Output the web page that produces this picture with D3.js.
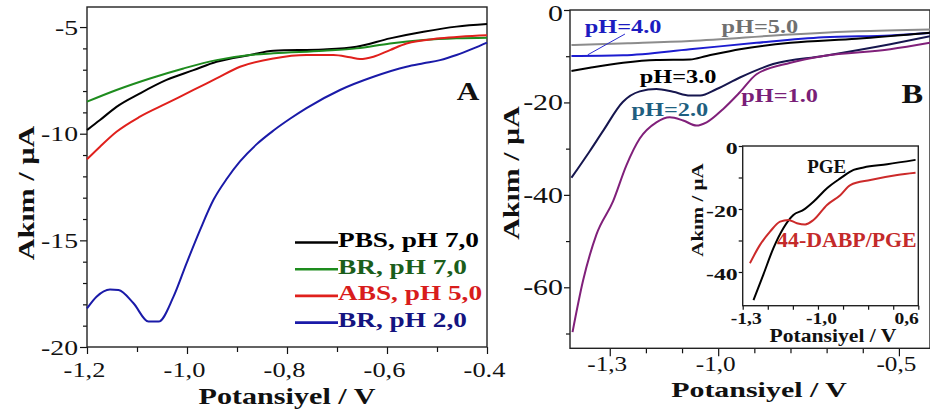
<!DOCTYPE html>
<html><head><meta charset="utf-8">
<script src="https://cdn.jsdelivr.net/npm/d3@7"></script>
<style>body{margin:0;background:#fff}svg{display:block}</style>
</head><body>
<svg id="c" width="930" height="416"></svg>
<script>
// ---------- DATA : panel A (potential V, current µA) ----------
const A_PBS7 = [[-1.2,-9.83],[-1.174,-9.36],[-1.141,-8.74],[-1.094,-8.11],[-1.041,-7.48],[-0.987,-7.02],[-0.941,-6.63],[-0.874,-6.31],[-0.827,-6.11],[-0.727,-6.05],[-0.661,-5.92],[-0.594,-5.53],[-0.527,-5.22],[-0.461,-4.98],[-0.4,-4.86]];
const A_BR7 = [[-1.2,-8.5],[-1.141,-7.95],[-1.074,-7.41],[-1.007,-6.94],[-0.941,-6.55],[-0.874,-6.31],[-0.827,-6.23],[-0.727,-6.11],[-0.661,-6.0],[-0.594,-5.77],[-0.527,-5.61],[-0.461,-5.53],[-0.4,-5.5]];
const A_ABS5 = [[-1.2,-11.2],[-1.174,-10.61],[-1.141,-9.91],[-1.094,-9.2],[-1.041,-8.58],[-0.987,-7.95],[-0.941,-7.41],[-0.894,-6.86],[-0.827,-6.47],[-0.761,-6.31],[-0.707,-6.31],[-0.674,-6.42],[-0.654,-6.5],[-0.627,-6.39],[-0.594,-6.08],[-0.561,-5.77],[-0.494,-5.53],[-0.4,-5.38]];
const A_BR2 = [[-1.2,-18.19],[-1.181,-17.64],[-1.154,-17.3],[-1.137,-17.33],[-1.107,-17.95],[-1.077,-18.81],[-1.057,-18.81],[-1.027,-17.64],[-1.001,-16.08],[-0.974,-14.52],[-0.947,-13.1],[-0.92,-12.1],[-0.894,-11.3],[-0.861,-10.5],[-0.827,-9.85],[-0.794,-9.3],[-0.761,-8.8],[-0.694,-7.95],[-0.627,-7.33],[-0.561,-6.86],[-0.527,-6.7],[-0.494,-6.55],[-0.461,-6.31],[-0.427,-6.0],[-0.4,-5.73]];
const A_legend = ["PBS, pH 7,0","BR, pH 7,0","ABS, pH 5,0","BR, pH 2,0"];
const A_yMajor = [-5,-10,-15,-20];
const A_yMinor = [-6,-7,-8,-9,-11,-12,-13,-14,-16,-17,-18,-19];
const A_xMajor = [-1.2,-1.0,-0.8,-0.6,-0.4];
const A_xLabels = ["-1,2","-1,0","-0,8","-0,6","-0.4"];
const A_xMinor = [-1.1,-0.9,-0.7,-0.5];

// ---------- DATA : panel B ----------
const B_pH5 = [[-1.406,-7.6],[-1.25,-7.2],[-1.078,-6.7],[-0.8,-5.3],[-0.617,-4.6],[-0.414,-4.2]];
const B_pH4 = [[-1.406,-9.95],[-1.263,-9.8],[-1.078,-8.5],[-0.894,-7.1],[-0.709,-5.9],[-0.524,-5.5],[-0.414,-5.0]];
const B_pH3 = [[-1.406,-13.2],[-1.355,-12.5],[-1.263,-11.4],[-1.171,-10.8],[-1.078,-10.7],[-1.032,-9.95],[-0.94,-8.5],[-0.8,-7.1],[-0.617,-6.2],[-0.414,-4.9]];
const B_pH2 = [[-1.406,-36.3],[-1.355,-30.5],[-1.318,-26.1],[-1.264,-19.9],[-1.217,-17.6],[-1.171,-17.1],[-1.125,-17.7],[-1.078,-18.5],[-1.05,-18.5],[-1.004,-17.1],[-0.94,-14.6],[-0.848,-11.7],[-0.709,-9.95],[-0.524,-7.4],[-0.414,-5.7]];
const B_pH1 = [[-1.403,-69.7],[-1.374,-58.6],[-1.337,-48.6],[-1.291,-41.4],[-1.254,-33.6],[-1.217,-27.8],[-1.171,-24.3],[-1.134,-23.2],[-1.097,-23.9],[-1.06,-25.0],[-1.032,-24.3],[-0.986,-21.4],[-0.94,-17.8],[-0.894,-13.9],[-0.8,-11.4],[-0.709,-9.95],[-0.524,-8.5],[-0.414,-7.1]];
const B_labels = ["pH=4.0","pH=5.0","pH=3.0","pH=2.0","pH=1.0"];
const B_labelPos = [[-1.369,-4.9],[-0.991,-4.9],[-1.217,-15.7],[-1.24,-23.0],[-0.936,-19.8]];
const B_leader = [[-1.258,-5.2],[-1.361,-9.7]];
const B_yMajor = [0,-20,-40,-60];
const B_yMinor = [-10,-30,-50,-70];
const B_xMajor = [-1.3,-1.0,-0.5];
const B_xLabels = ["-1,3","-1,0","-0,5"];
const B_xMinor = [-1.2,-1.1,-0.9,-0.8,-0.7,-0.6];

// ---------- DATA : inset ----------
const I_PGE = [[-1.257,-48.9],[-1.218,-40.9],[-1.178,-32.5],[-1.138,-26.1],[-1.098,-21.9],[-1.058,-20.3],[-1.018,-17.7],[-0.964,-13.4],[-0.911,-10.3],[-0.858,-7.6],[-0.818,-6.8],[-0.724,-5.8],[-0.611,-4.4]];
const I_DABP = [[-1.271,-37.2],[-1.231,-31.4],[-1.191,-27.2],[-1.151,-24.0],[-1.118,-23.5],[-1.084,-24.5],[-1.051,-24.9],[-1.018,-23.5],[-0.964,-18.7],[-0.911,-15.6],[-0.871,-12.4],[-0.791,-10.8],[-0.684,-9.2],[-0.611,-8.5]];
const I_yMajor = [0,-20,-40];
const I_yMinor = [-10,-30];
const I_xTicks = [-1.3,-1.2,-1.1,-1.0,-0.9,-0.8,-0.7,-0.6];
const I_xLabels = {"-1.3":"-1,3","-1":"-1,0","-0.6":"0,6"};

// ---------- helpers ----------
const FONT = "'Liberation Serif','Times New Roman',serif";
const svg = d3.select("#c");
function stretch(sel, k){
  sel.each(function(){
    const w = this.getComputedTextLength();
    if (w > 0) d3.select(this).attr("textLength", w*k).attr("lengthAdjust","spacingAndGlyphs");
  });
}
function styleAxis(g, size, bold, k){
  g.select(".domain").remove();
  g.selectAll(".tick line").attr("stroke","#111").attr("stroke-width",1.2);
  const t = g.selectAll(".tick text").attr("font-family",FONT).attr("font-size",size)
    .attr("font-weight", bold ? "bold" : "normal").attr("fill","#111");
  stretch(t, k);
  return g;
}
function frame(x0,x1,y0,y1){
  svg.append("rect").attr("x",x0).attr("y",y1).attr("width",x1-x0).attr("height",y0-y1)
    .attr("fill","none").attr("stroke","#222").attr("stroke-width",1.4);
}
function label(txt, x, y, size, color, k, opts={}){
  const t = svg.append("text").attr("x",x).attr("y",y).text(txt)
    .attr("font-family",FONT).attr("font-size",size).attr("font-weight", opts.normal ? "normal" : "bold")
    .attr("fill",color).attr("text-anchor", opts.anchor || "start");
  if (opts.rotate) t.attr("transform",`rotate(-90,${x},${y})`);
  stretch(t,k);
  return t;
}
const lineGen = (x,y) => d3.line().x(d=>x(d[0])).y(d=>y(d[1])).curve(d3.curveMonotoneX);

// ================= PANEL A =================
const xA = d3.scaleLinear().domain([-1.2,-0.4]).range([87,487]);
const yA = d3.scaleLinear().domain([-20,-4.06]).range([347,7]);
const A_series = [A_PBS7, A_BR7, A_ABS5, A_BR2];
const A_colors = ["#000000","#1e8c1e","#e0201c","#1a1aa8"];
const A_textColors = ["#000000","#1b5e1b","#d81c1c","#141480"];

const gAl = svg.append("g").attr("transform","translate(87,0)");
gAl.call(d3.axisLeft(yA).tickValues(A_yMinor).tickSize(4).tickFormat(""));
styleAxis(gAl,22,false,1.26);
const gAl2 = svg.append("g").attr("transform","translate(87,0)");
gAl2.call(d3.axisLeft(yA).tickValues(A_yMajor).tickSize(7).tickPadding(2).tickFormat(d=>String(d)));
styleAxis(gAl2,22,false,1.26);

const gAb = svg.append("g").attr("transform","translate(0,347)");
gAb.call(d3.axisBottom(xA).tickValues(A_xMinor).tickSize(5).tickFormat(""));
styleAxis(gAb,22,false,1.2);
const gAb2 = svg.append("g").attr("transform","translate(0,347)");
gAb2.call(d3.axisBottom(xA).tickValues(A_xMajor).tickSize(7).tickPadding(7).tickFormat((d,i)=>A_xLabels[i]));
styleAxis(gAb2,22,false,1.2);
gAb2.selectAll(".tick text").attr("dx",-3);

frame(87,487,347,7);

A_series.forEach((s,i)=>{
  svg.append("path").datum(s).attr("d",lineGen(xA,yA)).attr("fill","none")
    .attr("stroke",A_colors[i]).attr("stroke-width",2);
});

label("A", xA(-0.4606), yA(-8.42), 26, "#111", 1.2);

// legend
A_legend.forEach((t,i)=>{
  const yy = 242.5 + i*26.7;
  svg.append("line").attr("x1",295).attr("x2",338).attr("y1",yy).attr("y2",yy)
    .attr("stroke",A_colors[i]).attr("stroke-width",2.6);
  label(t, 338, yy+4.5, 22, A_textColors[i], 1.24);
});

label("Potansiyel / V", 287, 404, 23, "#111", 1.31, {anchor:"middle"});
label("Akım / µA", 34, 193, 23, "#111", 1.31, {anchor:"middle", rotate:true});

// ================= PANEL B =================
const xB = d3.scaleLinear().domain([-1.41,-0.414]).range([570,930]);
const yB = d3.scaleLinear().domain([-73.2,0]).range([348.3,10]);
const B_series = [B_pH5, B_pH4, B_pH3, B_pH2, B_pH1];
const B_colors = ["#8c8c8c","#1c1cd0","#000000","#16164e","#80207a"];
const B_textColors = ["#1c1cc0","#707070","#000000","#1f5f80","#7a1f78"];

const gBl = svg.append("g").attr("transform","translate(570,0)");
gBl.call(d3.axisLeft(yB).tickValues(B_yMinor).tickSize(4).tickFormat(""));
styleAxis(gBl,23,false,1.3);
const gBl2 = svg.append("g").attr("transform","translate(570,0)");
gBl2.call(d3.axisLeft(yB).tickValues(B_yMajor).tickSize(6).tickPadding(1).tickFormat(d=>String(d)));
styleAxis(gBl2,23,false,1.3);
gBl2.selectAll(".tick text").filter(d=>d===0).attr("dy","0.45em");

const gBb = svg.append("g").attr("transform","translate(0,348.3)");
gBb.call(d3.axisBottom(xB).tickValues(B_xMinor).tickSize(5).tickFormat(""));
styleAxis(gBb,21,false,1.2);
const gBb2 = svg.append("g").attr("transform","translate(0,348.3)");
gBb2.call(d3.axisBottom(xB).tickValues(B_xMajor).tickSize(8).tickPadding(0).tickFormat((d,i)=>B_xLabels[i]));
styleAxis(gBb2,21,false,1.2);
gBb2.selectAll(".tick text").attr("dx",-3);

frame(570,930,348.3,10);

B_series.forEach((s,i)=>{
  svg.append("path").datum(s).attr("d",lineGen(xB,yB)).attr("fill","none")
    .attr("stroke",B_colors[i]).attr("stroke-width",2);
});
svg.append("line").attr("x1",xB(B_leader[0][0])).attr("y1",yB(B_leader[0][1]))
  .attr("x2",xB(B_leader[1][0])).attr("y2",yB(B_leader[1][1]))
  .attr("stroke","#2a2ad0").attr("stroke-width",1);
B_labels.forEach((t,i)=>{
  label(t, xB(B_labelPos[i][0]), yB(B_labelPos[i][1]), 19, B_textColors[i], 1.28);
});
label("B", xB(-0.493), yB(-20.2), 27, "#111", 1.2);
label("Potansiyel / V", 759, 397, 22, "#111", 1.36, {anchor:"middle"});
label("Akım / µA", 519, 173, 23, "#111", 1.3, {anchor:"middle", rotate:true});

// ================= INSET =================
const xI = d3.scaleLinear().domain([-1.3,-0.6]).range([742.7,918.3]);
const yI = d3.scaleLinear().domain([-50.7,0]).range([305.7,146]);
svg.append("rect").attr("x",742.7).attr("y",146).attr("width",175.6).attr("height",159.7).attr("fill","#fff");

const gIl = svg.append("g").attr("transform","translate(742.7,0)");
gIl.call(d3.axisLeft(yI).tickValues(I_yMinor).tickSize(4).tickFormat(""));
styleAxis(gIl,17,true,1.4);
const gIl2 = svg.append("g").attr("transform","translate(742.7,0)");
gIl2.call(d3.axisLeft(yI).tickValues(I_yMajor).tickSize(4).tickPadding(1).tickFormat(d=>String(d)));
styleAxis(gIl2,17,true,1.4);
gIl2.selectAll(".tick text").attr("dy","0.42em");

const gIb = svg.append("g").attr("transform","translate(0,305.7)");
gIb.call(d3.axisBottom(xI).tickValues(I_xTicks).tickSize(4).tickPadding(3)
  .tickFormat(d=>I_xLabels[String(+d.toFixed(1))] || ""));
styleAxis(gIb,16,true,1.22);
gIb.selectAll(".tick text").attr("dx",3);
gIb.selectAll(".tick text").filter(d=>Math.abs(d+0.6)<1e-6).attr("text-anchor","end").attr("dx",0);

frame(742.7,918.3,305.7,146);

svg.append("path").datum(I_PGE).attr("d",lineGen(xI,yI)).attr("fill","none").attr("stroke","#000").attr("stroke-width",2);
svg.append("path").datum(I_DABP).attr("d",lineGen(xI,yI)).attr("fill","none").attr("stroke","#cc2a2a").attr("stroke-width",2);

label("PGE", xI(-1.043), yI(-8.57), 19, "#111", 1.0);
label("44-DABP/PGE", xI(-1.163), yI(-32.1), 21, "#c42a2a", 1.04);
label("Potansiyel / V", 833, 342, 18, "#111", 1.2, {anchor:"middle"});
label("Akım / µA", 703, 210, 17, "#111", 1.23, {anchor:"middle", rotate:true});
</script>
</body></html>
